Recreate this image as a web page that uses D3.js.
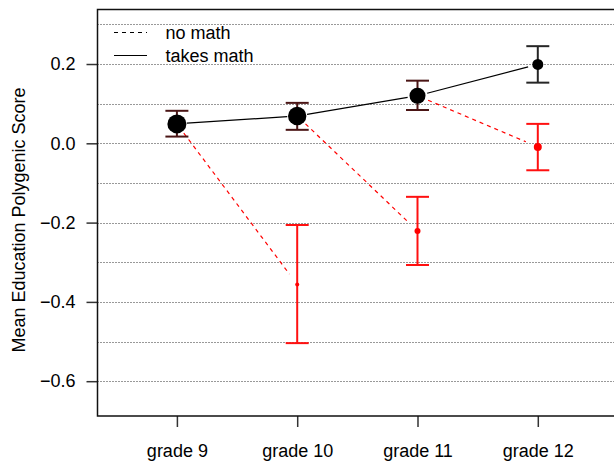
<!DOCTYPE html>
<html lang="en">
<head>
    <meta charset="UTF-8">
    <title>Mean Education Polygenic Score by grade</title>
    <script src="https://cdn.jsdelivr.net/npm/d3@7"></script>
    <style>
        body { margin: 0; background: #fff; }
        svg text { font-family: "Liberation Sans", Arial, Helvetica, sans-serif; fill: #000; }
    </style>
</head>
<body>
    <div id="chart"></div>

    <script>
        // Data
        const grades = ['grade 9', 'grade 10', 'grade 11', 'grade 12'];

        // takes math (black): one value per grade
        const takesMean = [0.049, 0.069, 0.120, 0.199];
        const takesLow  = [0.017, 0.034, 0.084, 0.153];
        const takesHigh = [0.082, 0.102, 0.158, 0.245];

        // no math (red): grades 10..12
        const noMathGrades = ['grade 10', 'grade 11', 'grade 12'];
        const noMean = [-0.356, -0.221, -0.009];
        const noLow  = [-0.504, -0.307, -0.068];
        const noHigh = [-0.206, -0.135, 0.049];

        const yTicks = [-0.6, -0.4, -0.2, 0.0, 0.2];
        const gridValues = [-0.6, -0.5, -0.4, -0.3, -0.2, -0.1, 0.0, 0.1, 0.2, 0.3];

        // point sizes (style)
        const takesRadius = [9.5, 9.2, 8, 5.5];
        const noRadius = [2, 3, 4];

        const width = 614, height = 463;
        const plot = { left: 97.5, top: 9.5, right: 617.5, bottom: 416 };

        const svg = d3.select('#chart').append('svg')
            .attr('width', width)
            .attr('height', height);

        const x = d3.scalePoint()
            .domain(grades)
            .range([176.9, 537.8]);

        const y = d3.scaleLinear()
            .domain([-0.6878, 0.3375])
            .range([plot.bottom, plot.top]);

        // dotted gridlines
        svg.append('g').selectAll('line')
            .data(gridValues)
            .join('line')
            .attr('x1', plot.left)
            .attr('x2', plot.right)
            .attr('y1', d => Math.round(y(d)) + 0.5)
            .attr('y2', d => Math.round(y(d)) + 0.5)
            .attr('stroke', '#333')
            .attr('stroke-width', 1)
            .attr('stroke-dasharray', '1,2');

        // axes
        const yAxis = svg.append('g')
            .attr('transform', `translate(${plot.left},0)`)
            .call(d3.axisLeft(y).tickValues(yTicks).tickSize(11).tickPadding(11)
                .tickFormat(d => d3.format('.1f')(d).replace('-', '\u2212')));
        const xAxis = svg.append('g')
            .attr('transform', `translate(0,${plot.bottom})`)
            .call(d3.axisBottom(x).tickSize(11).tickPadding(17));

        [yAxis, xAxis].forEach(g => {
            g.select('.domain').remove();
            g.selectAll('line').attr('stroke', '#333').attr('stroke-width', 1.5);
            g.selectAll('text').attr('font-size', '18px')
                .attr('font-family', '"Liberation Sans", Arial, sans-serif');
        });

        // box (right side runs off the picture)
        svg.append('path')
            .attr('d', `M${plot.right},${plot.top}H${plot.left}V${plot.bottom}H${plot.right}`)
            .attr('fill', 'none')
            .attr('stroke', '#111')
            .attr('stroke-width', 1.5);

        // y label
        svg.append('text')
            .attr('transform', 'translate(25,220) rotate(-90)')
            .attr('text-anchor', 'middle')
            .attr('font-size', '18px')
            .text('Mean Education Polygenic Score');

        // shorten a segment by gaps at both ends
        function trimmed(x1, y1, x2, y2, g1, g2) {
            const dx = x2 - x1, dy = y2 - y1, len = Math.hypot(dx, dy);
            const ux = dx / len, uy = dy / len;
            return { x1: x1 + ux * g1, y1: y1 + uy * g1, x2: x2 - ux * g2, y2: y2 - uy * g2 };
        }

        // red dashed lines: takes math at grade g -> no math at grade g+1
        const redSegs = noMathGrades.map((g, i) =>
            trimmed(x(grades[i]), y(takesMean[i]), x(g), y(noMean[i]), 11.5, 13));
        svg.append('g').selectAll('line')
            .data(redSegs)
            .join('line')
            .attr('x1', d => d.x1).attr('y1', d => d.y1)
            .attr('x2', d => d.x2).attr('y2', d => d.y2)
            .attr('stroke', '#ff0000')
            .attr('stroke-width', 1.2)
            .attr('stroke-dasharray', '4,4');

        // black solid line through takes-math means
        const blackSegs = d3.range(grades.length - 1).map(i =>
            trimmed(x(grades[i]), y(takesMean[i]), x(grades[i + 1]), y(takesMean[i + 1]), 10, 10));
        svg.append('g').selectAll('line')
            .data(blackSegs)
            .join('line')
            .attr('x1', d => d.x1).attr('y1', d => d.y1)
            .attr('x2', d => d.x2).attr('y2', d => d.y2)
            .attr('stroke', '#000')
            .attr('stroke-width', 1.2);

        // error bars
        function errorBars(cats, low, high, colorFn) {
            const g = svg.append('g');
            cats.forEach((c, i) => {
                const cx = x(c), col = colorFn(i);
                g.append('line')
                    .attr('x1', cx).attr('x2', cx)
                    .attr('y1', y(low[i])).attr('y2', y(high[i]))
                    .attr('stroke', col).attr('stroke-width', 2);
                [low[i], high[i]].forEach(v => {
                    g.append('line')
                        .attr('x1', cx - 11.5).attr('x2', cx + 11.5)
                        .attr('y1', y(v)).attr('y2', y(v))
                        .attr('stroke', col).attr('stroke-width', 2);
                });
            });
        }
        errorBars(noMathGrades, noLow, noHigh, () => '#ff1010');
        errorBars(grades, takesLow, takesHigh, i => i < 3 ? '#4a1515' : '#262626');

        // points
        svg.append('g').selectAll('circle')
            .data(noMean)
            .join('circle')
            .attr('cx', (d, i) => x(noMathGrades[i]))
            .attr('cy', d => y(d))
            .attr('r', (d, i) => noRadius[i])
            .attr('fill', '#ff0000');

        svg.append('g').selectAll('circle')
            .data(takesMean)
            .join('circle')
            .attr('cx', (d, i) => x(grades[i]))
            .attr('cy', d => y(d))
            .attr('r', (d, i) => takesRadius[i])
            .attr('fill', '#000');

        // legend
        const legend = svg.append('g');
        const legendItems = [
            { label: 'no math', dash: '4,4', yy: 32.5 },
            { label: 'takes math', dash: null, yy: 55.5 }
        ];
        legendItems.forEach(item => {
            legend.append('line')
                .attr('x1', 114).attr('x2', 147)
                .attr('y1', item.yy).attr('y2', item.yy)
                .attr('stroke', '#000')
                .attr('stroke-width', 1.2)
                .attr('stroke-dasharray', item.dash);
            legend.append('text')
                .attr('x', 165.5)
                .attr('y', item.yy)
                .attr('dy', '0.35em')
                .attr('font-size', '18px')
                .text(item.label);
        });
    </script>
</body>
</html>
